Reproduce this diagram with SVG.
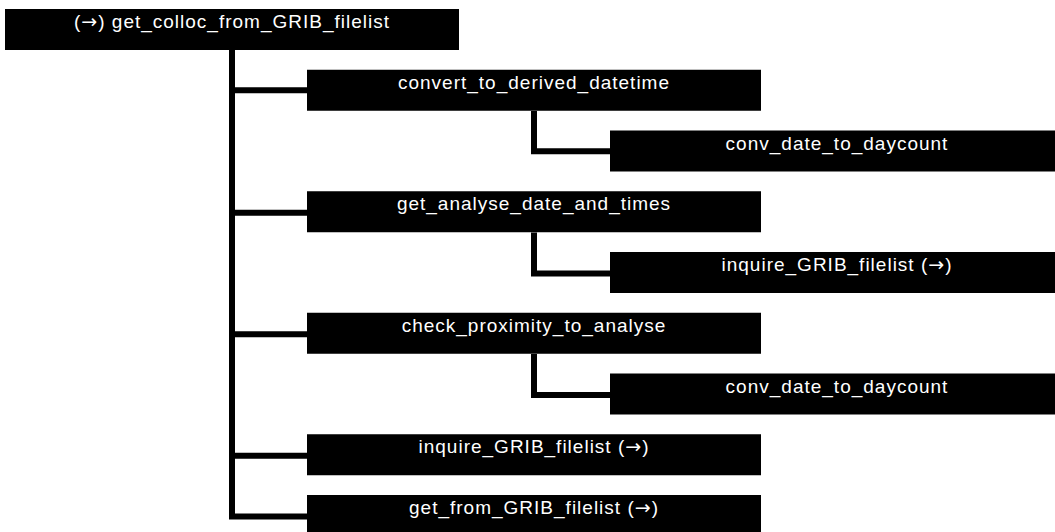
<svg xmlns="http://www.w3.org/2000/svg" width="1055" height="532" viewBox="0 0 1055 532">
<style>
.box{fill:#000}
.lbl{fill:#fff;font-family:"Liberation Sans",Arial,sans-serif;font-size:19px;letter-spacing:1px;text-anchor:middle}
.ar{font-family:"DejaVu Sans",sans-serif;font-size:19px}
.con{fill:none;stroke:#000;stroke-width:6}
</style>
<rect width="1055" height="532" fill="#fff"/>
<g id="connectors">
<path class="con" d="M232 50V516.5H307M232 90.25H307M232 212.75H307M232 334.25H307M232 455.75H307"/>
<path class="con" d="M534 111V151.25H610"/>
<path class="con" d="M534 232.5V273.5H610"/>
<path class="con" d="M534 354V395H610"/>
</g>
<g id="n0"><rect class="box" x="5" y="9" width="454" height="41"/><text class="lbl" x="232" y="28">(<tspan class="ar">→</tspan>) get_colloc_from_GRIB_filelist</text></g>
<g id="n1"><rect class="box" x="307" y="69.75" width="454" height="41"/><text class="lbl" x="534" y="88.75">convert_to_derived_datetime</text></g>
<g id="n2"><rect class="box" x="610" y="130.5" width="454" height="41"/><text class="lbl" x="837" y="149.5">conv_date_to_daycount</text></g>
<g id="n3"><rect class="box" x="307" y="191.25" width="454" height="41"/><text class="lbl" x="534" y="210.25">get_analyse_date_and_times</text></g>
<g id="n4"><rect class="box" x="610" y="252" width="454" height="41"/><text class="lbl" x="837" y="271">inquire_GRIB_filelist (<tspan class="ar">→</tspan>)</text></g>
<g id="n5"><rect class="box" x="307" y="312.75" width="454" height="41"/><text class="lbl" x="534" y="331.75">check_proximity_to_analyse</text></g>
<g id="n6"><rect class="box" x="610" y="373.5" width="454" height="41"/><text class="lbl" x="837" y="392.5">conv_date_to_daycount</text></g>
<g id="n7"><rect class="box" x="307" y="434.25" width="454" height="41"/><text class="lbl" x="534" y="453.25">inquire_GRIB_filelist (<tspan class="ar">→</tspan>)</text></g>
<g id="n8"><rect class="box" x="307" y="495" width="454" height="41"/><text class="lbl" x="534" y="514">get_from_GRIB_filelist (<tspan class="ar">→</tspan>)</text></g>
</svg>
